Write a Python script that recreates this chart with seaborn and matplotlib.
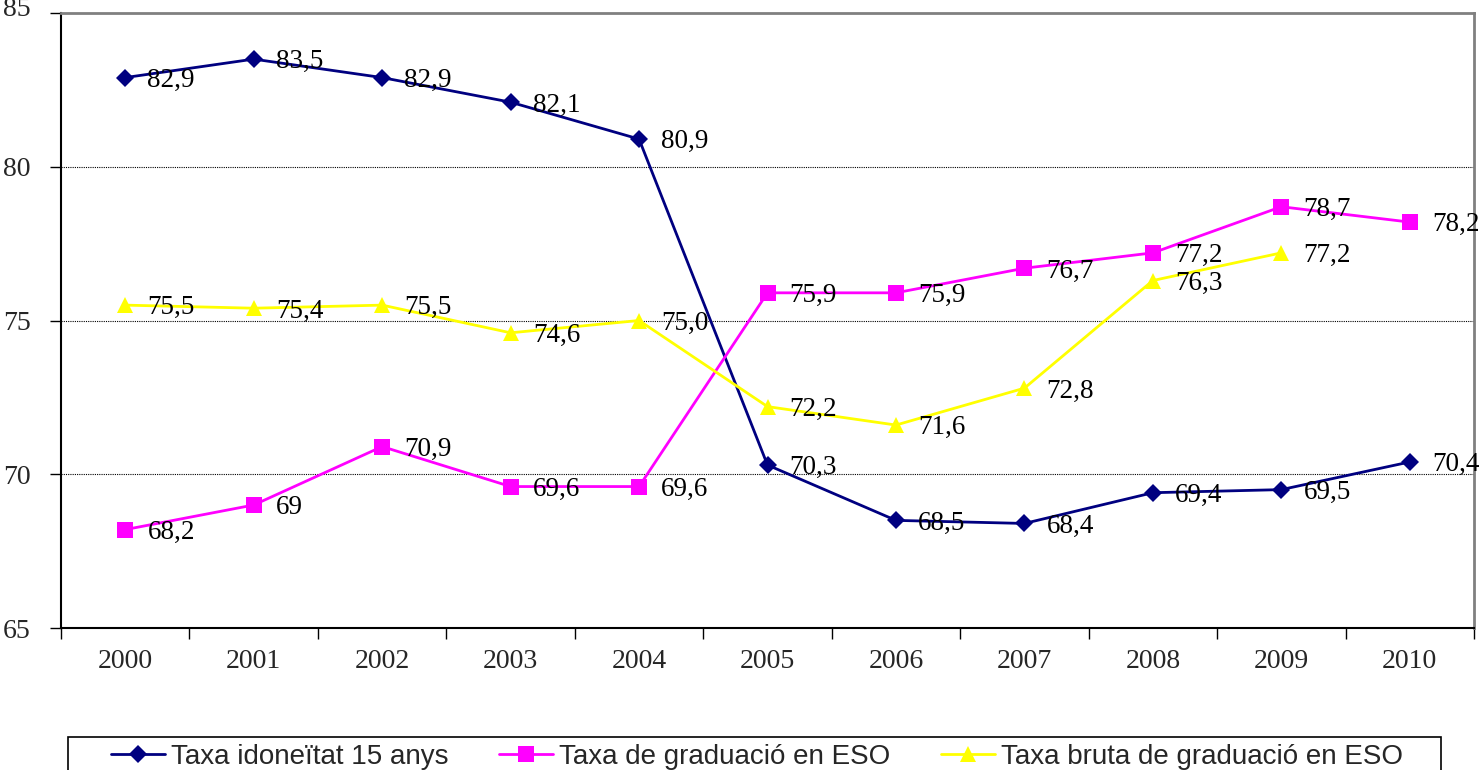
import matplotlib
matplotlib.use("Agg")
import matplotlib.pyplot as plt
import matplotlib.transforms as mtransforms
import seaborn as sns
import pandas as pd
import numpy as np
from matplotlib.ticker import FixedLocator
from matplotlib.patches import Rectangle

years = ["2000", "2001", "2002", "2003", "2004", "2005", "2006", "2007", "2008", "2009", "2010"]
idoneitat = [82.9, 83.5, 82.9, 82.1, 80.9, 70.3, 68.5, 68.4, 69.4, 69.5, 70.4]
graduacio = [68.2, 69.0, 70.9, 69.6, 69.6, 75.9, 75.9, 76.7, 77.2, 78.7, 78.2]
bruta = [75.5, 75.4, 75.5, 74.6, 75.0, 72.2, 71.6, 72.8, 76.3, 77.2]
idoneitat_lbl = ["82,9", "83,5", "82,9", "82,1", "80,9", "70,3", "68,5", "68,4", "69,4", "69,5", "70,4"]
graduacio_lbl = ["68,2", "69", "70,9", "69,6", "69,6", "75,9", "75,9", "76,7", "77,2", "78,7", "78,2"]
bruta_lbl = ["75,5", "75,4", "75,5", "74,6", "75,0", "72,2", "71,6", "72,8", "76,3", "77,2"]
series_names = ["Taxa idoneïtat 15 anys", "Taxa de graduació en ESO", "Taxa bruta de graduació en ESO"]
yticks = [65, 70, 75, 80, 85]

sns.set_style("white")
plt.rcParams["font.family"] = ["Liberation Serif", "DejaVu Serif"]

fig = plt.figure(figsize=(14.79, 7.70), dpi=100)
ax = fig.add_axes([61/1479, 1-628/770, (1474-61)/1479, (628-13)/770])

rows = []
for name, vals, lbls in zip(series_names, [idoneitat, graduacio, bruta],
                            [idoneitat_lbl, graduacio_lbl, bruta_lbl]):
    for i, (v, l) in enumerate(zip(vals, lbls)):
        rows.append({"pos": i, "year": years[i], "value": v, "serie": name, "label": l})
df = pd.DataFrame(rows)

colors = {series_names[0]: "#000080", series_names[1]: "#FF00FF", series_names[2]: "#FFFF00"}
markers = {series_names[0]: "D", series_names[1]: "s", series_names[2]: "^"}
msizes = {series_names[0]: 9, series_names[1]: 12, series_names[2]: 12}

for name in series_names:
    sub = df[df.serie == name]
    sns.lineplot(data=sub, x="pos", y="value", ax=ax, color=colors[name],
                 marker=markers[name], markersize=msizes[name], markeredgewidth=0,
                 linewidth=2, label=name, legend=False, zorder=3)
    for _, r in sub.iterrows():
        ax.annotate(r["label"], (r["pos"], r["value"]), xytext=(16, -2),
                    textcoords="offset points", va="center", ha="left",
                    fontsize=19.5, color="black", zorder=4)

ax.set_ylim(65, 85)
ax.set_xlim(-0.5, len(years) - 0.5)
ax.set_yticks(yticks)
ax.set_yticklabels([str(t) for t in yticks], fontsize=20)
ax.xaxis.set_major_locator(FixedLocator(np.arange(-0.5, len(years), 1.0)))
ax.set_xticklabels([])
ax.xaxis.set_minor_locator(FixedLocator(np.arange(len(years))))
ax.set_xticklabels(years, minor=True, fontsize=20)
ax.tick_params(axis="x", which="major", direction="out", length=8, width=1, color="black", bottom=True)
ax.tick_params(axis="x", which="minor", length=0, pad=15, bottom=True)
ax.tick_params(axis="y", which="major", direction="out", length=8, width=1, color="black", left=True, pad=14)
ax.set_xlabel("")
ax.set_ylabel("")

# top label sits slightly higher (partly cut off) as in the reference
top_lbl = ax.get_yticklabels()[-1]
top_lbl.set_transform(top_lbl.get_transform() +
                      mtransforms.ScaledTranslation(0, 5/72, fig.dpi_scale_trans))

for y in [70, 75, 80]:
    ax.axhline(y, color="black", linestyle=(0, (1, 1)), linewidth=0.8, zorder=1)

ax.spines["left"].set_color("black")
ax.spines["bottom"].set_color("black")
ax.spines["left"].set_linewidth(1.5)
ax.spines["bottom"].set_linewidth(1.5)
for s in ["top", "right"]:
    ax.spines[s].set_color("#808080")
    ax.spines[s].set_linewidth(2)

# legend frame (clipped by the figure bottom, as in the reference)
fig.patches.append(Rectangle((68/1479, -0.05), (1441-68)/1479, 0.05 + 1-737/770,
                             transform=fig.transFigure, fill=False, edgecolor="black",
                             linewidth=1.2, zorder=5))

handles, labels = ax.get_legend_handles_labels()
leg = fig.legend(handles, labels, loc="center", bbox_to_anchor=(757/1479, 1-757/770),
                 ncol=3, frameon=False,
                 prop={"family": "Liberation Sans", "size": 20}, handlelength=1.95,
                 columnspacing=1.8, borderpad=0, handletextpad=0.22, borderaxespad=0)

fig.savefig("out.png", dpi=100)
